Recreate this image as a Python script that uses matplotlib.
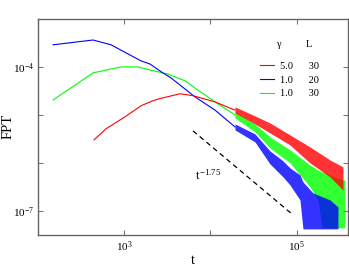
import numpy as np
import matplotlib
matplotlib.use("Agg")
import matplotlib.pyplot as plt

plt.rcParams['font.family'] = ['Liberation Serif', 'DejaVu Serif']
plt.rcParams['mathtext.fontset'] = 'custom'
plt.rcParams['mathtext.rm'] = 'Liberation Serif'
plt.rcParams['mathtext.it'] = 'Liberation Serif'

# values are log10(t), log10(FPT)
# smooth early part of each curve
red_t = [2.650, 2.789, 3.009, 3.195, 3.299, 3.392, 3.647, 3.798, 4.053, 4.285]
red_f = [-5.52, -5.29, -5.04, -4.81, -4.73, -4.67, -4.56, -4.60, -4.73, -4.90]
blue_t = [2.174, 2.638, 2.847, 3.044, 3.195, 3.299, 3.427, 3.543, 3.821, 4.053, 4.285]
blue_f = [-3.54, -3.44, -3.54, -3.73, -3.875, -3.94, -4.10, -4.23, -4.625, -4.90, -5.25]
green_t = [2.174, 2.638, 2.963, 3.160, 3.241, 3.508, 3.705, 3.821, 4.053, 4.285]
green_f = [-4.69, -4.125, -4.0, -4.0, -4.04, -4.15, -4.29, -4.44, -4.73, -5.0]

# noisy tails: upper / lower edge of the band
red_band_t = [4.285, 4.517, 4.691, 4.923, 5.155, 5.387, 5.538]
red_band_hi = [-4.833, -5.021, -5.167, -5.417, -5.667, -5.938, -6.083]
red_band_lo = [-4.958, -5.188, -5.375, -5.625, -6.0, -6.292, -6.563]
blue_band_t = [4.285, 4.517, 4.691, 4.842, 4.923, 5.039, 5.074, 5.190, 5.387, 5.480]
blue_band_hi = [-5.188, -5.396, -5.75, -5.958, -6.104, -6.25, -6.396, -6.625, -6.771, -6.917]
blue_band_lo = [-5.313, -5.563, -6.021, -6.292, -6.458, -6.771, -7.375, -7.375, -7.375, -7.375]
green_band_t = [4.285, 4.517, 4.691, 4.923, 5.155, 5.248, 5.295, 5.387, 5.527, 5.561]
green_band_hi = [-4.938, -5.188, -5.458, -5.729, -6.042, -6.146, -6.188, -6.25, -6.354, -6.354]
green_band_lo = [-5.063, -5.354, -5.688, -6.0, -6.5, -6.771, -7.354, -7.354, -7.354, -7.354]

# guide line t^-1.75
guide_t = [3.798, 4.958]
guide_f = [-5.333, -7.083]

gammas = ['5.0', '1.0', '1.0']
sizes = ['30', '20', '30']
colors = ['#ff0000', '#0000ff', '#00ff00']

x_ticks = [1e2, 1e3, 1e4, 1e5]
x_ticklabels = ['', r'$10^{3}$', '', r'$10^{5}$']
y_ticks = [1e-7, 1e-6, 1e-5, 1e-4]
y_ticklabels = [r'$10^{-7}$', '', '', r'$10^{-4}$']


def p(v):
    return 10 ** np.array(v)


fig = plt.figure(figsize=(3.49, 2.66), dpi=100)
ax = fig.add_axes([0.109, 0.117, 0.888, 0.812])
ax.set_xscale('log')
ax.set_yscale('log')

series = [
    (green_t, green_f, green_band_t, green_band_hi, green_band_lo, colors[2]),
    (blue_t, blue_f, blue_band_t, blue_band_hi, blue_band_lo, colors[1]),
    (red_t, red_f, red_band_t, red_band_hi, red_band_lo, colors[0]),
]
for t, f, bt, bhi, blo, c in series:
    ax.plot(p(t), p(f), color=c, lw=0.8)
    ax.fill_between(p(bt), p(blo), p(bhi), color=c, lw=0, alpha=0.8)

ax.plot(p(guide_t), p(guide_f), color='black', lw=0.9, ls=(0, (4, 3)))
ax.text(10 ** 3.82, 10 ** -6.25, r'$t^{-1.75}$', fontsize=9, ha='left', va='center')

# legend as columns: gamma and L
handles = [plt.Line2D([], [], color=c, lw=0.8) for c in colors]
labels = [g + '      ' + s for g, s in zip(gammas, sizes)]
leg = ax.legend(handles, labels, loc='upper left', bbox_to_anchor=(0.70, 0.826),
                frameon=False, fontsize=7.5, handlelength=1.3, handletextpad=0.6,
                labelspacing=0.42, borderpad=0)
ax.text(0.775, 0.88, 'γ', transform=ax.transAxes, fontsize=7.5, ha='center', va='center')
ax.text(0.875, 0.88, 'L', transform=ax.transAxes, fontsize=7.5, ha='center', va='center')

ax.set_xlim(10 ** 2.0, 10 ** 5.596)
ax.set_ylim(10 ** -7.5, 10 ** -3.0)
ax.set_xticks(x_ticks)
ax.set_xticklabels(x_ticklabels)
ax.set_yticks(y_ticks)
ax.set_yticklabels(y_ticklabels)
ax.minorticks_off()
ax.tick_params(which='both', direction='in', top=True, right=True, length=3.5,
               width=0.8, color='#777777', labelsize=8, pad=3)

for s in ax.spines.values():
    s.set_color('#666666')
    s.set_linewidth(1.0)

ax.set_xlabel('t', fontsize=10, labelpad=0)
ax.set_ylabel('FPT', fontsize=10.5)
ax.yaxis.set_label_coords(-0.074, 0.5)

fig.savefig('out.png', dpi=100)
